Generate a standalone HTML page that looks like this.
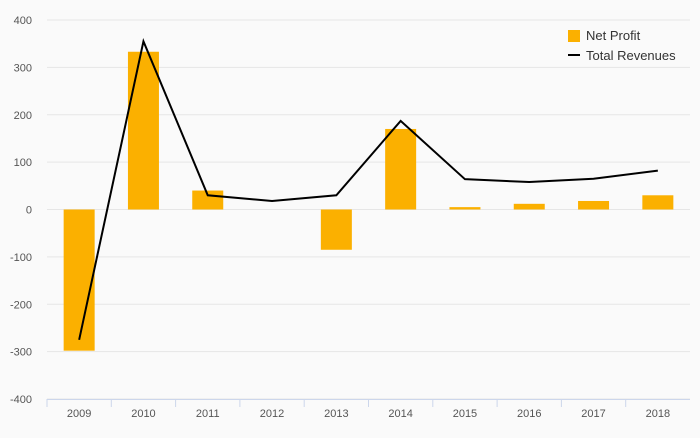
<!DOCTYPE html>
<html><head><meta charset="utf-8"><style>
body{margin:0;background:#fafafa;font-family:"Liberation Sans",sans-serif}
svg text{font-family:"Liberation Sans",sans-serif}
</style></head><body>
<svg id="chart" width="700" height="433" xmlns="http://www.w3.org/2000/svg">
<rect width="700" height="433" fill="#fafafa"/>
<g id="grid"></g><g id="bars"></g><g id="line"></g><g id="axes"></g>
<g>
<rect x="568" y="30" width="12" height="12" fill="#fbb000"/>
<text x="586" y="40" font-size="13" fill="#333">Net Profit</text>
<line x1="568" y1="55" x2="580" y2="55" stroke="#000" stroke-width="2"/>
<text x="586" y="60" font-size="13" fill="#333">Total Revenues</text>
</g>
</svg>
<script>
const categories=["2009","2010","2011","2012","2013","2014","2015","2016","2017","2018"];
const netProfit=[-298,333,40,0,-85,170,5,12,18,30];
const totalRevenues=[-275,355,30,18,30,187,64,58,65,82];
const yTicks=[400,300,200,100,0,-100,-200,-300,-400];
const NS="http://www.w3.org/2000/svg";
const L=47,R=690,T=20,B=399;
const step=(R-L)/categories.length;
const x=i=>L+step*(i+0.5);
const y=v=>T+(400-v)/800*(B-T);
function mk(t,a,p){const e=document.createElementNS(NS,t);for(const k in a)e.setAttribute(k,a[k]);p.appendChild(e);return e;}
const grid=document.getElementById('grid'),bars=document.getElementById('bars'),line=document.getElementById('line'),axes=document.getElementById('axes');
yTicks.forEach(v=>{
 const g=mk('line',{x1:L,x2:R,y1:y(v),y2:y(v),stroke:'#e6e6e6','stroke-width':1},grid);
 
 
 const t=mk('text',{x:32,y:y(v)+4,'font-size':11,fill:'#555','text-anchor':'end'},axes);
 t.textContent=v;
 
 
});
const ax=mk('line',{x1:L,x2:R,y1:B+0.5,y2:B+0.5,stroke:'#ccd6eb'},axes);


categories.forEach((c,i)=>{
 const tk=mk('line',{x1:L+step*i,x2:L+step*i,y1:B,y2:B+8,stroke:'#ccd6eb'},axes);
 
 
 const t=mk('text',{x:x(i),y:417,'font-size':11,fill:'#555','text-anchor':'middle'},axes);
 t.textContent=c;
 
 
 const v=netProfit[i],w=31;
 const b=mk('rect',{x:x(i)-w/2,y:Math.min(y(v),y(0)),width:w,height:Math.abs(y(v)-y(0)),fill:'#fbb000'},bars);
 
 
});
const p=mk('polyline',{points:totalRevenues.map((v,i)=>x(i)+','+y(v)).join(' '),fill:'none',stroke:'#000','stroke-width':2},line);


</script>
</body></html>
